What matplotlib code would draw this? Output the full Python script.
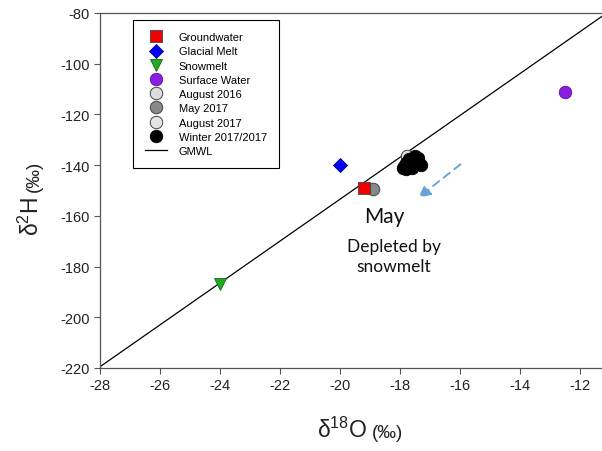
import matplotlib
matplotlib.use("Agg")
import matplotlib.pyplot as plt
import numpy as np

plt.rcParams['font.family'] = ['Liberation Sans', 'DejaVu Sans']
plt.rcParams['axes.unicode_minus'] = False
plt.rcParams['mathtext.default'] = 'regular'

# Data
gw_x, gw_y = [-19.2], [-149]
gm_x, gm_y = [-20.0], [-140]
sm_x, sm_y = [-24.0], [-187]
sw_x, sw_y = [-12.5], [-111]
aug16_x, aug16_y = [-17.75], [-136.5]
may17_x, may17_y = [-18.9], [-149.5]
aug17_x, aug17_y = [-17.85], [-140.5]
win_x = [-17.9, -17.8, -17.7, -17.6, -17.5, -17.4, -17.3, -17.8, -17.6, -17.4, -17.7, -17.5]
win_y = [-141, -139, -137.5, -140, -138, -139, -140, -141.5, -141, -137, -139.5, -136.5]
gmwl_x = [-28, -10]
gmwl_slope, gmwl_int = 8.25, 11.5
xticks = [-28, -26, -24, -22, -20, -18, -16, -14, -12]
yticks = [-220, -200, -180, -160, -140, -120, -100, -80]
arrow_start = (-15.9, -139)
arrow_end = (-17.45, -153.5)

fig = plt.figure(figsize=(6.02, 4.52), dpi=100)
ax = fig.add_axes([100/602, 1-369/452, 502/602, 355/452])

gx = np.array(gmwl_x)
ax.plot(gx, gmwl_slope*gx + gmwl_int, color='black', lw=0.9, label='GMWL', zorder=2)

ax.plot(gw_x, gw_y, 's', ms=8, mfc='#ee0000', mec='#444444', mew=0.6, label='Groundwater', zorder=4)
ax.plot(gm_x, gm_y, 'D', ms=7, mfc='#0000ee', mec='#0000aa', mew=0.6, label='Glacial Melt', zorder=4)
ax.plot(sm_x, sm_y, 'v', ms=8.5, mfc='#22aa22', mec='#116611', mew=0.6, label='Snowmelt', zorder=4)
ax.plot(sw_x, sw_y, 'o', ms=9, mfc='#8a1fe0', mec='#5a10a0', mew=0.6, label='Surface Water', zorder=4)
ax.plot(aug16_x, aug16_y, 'o', ms=9, mfc='#dddddd', mec='#444444', mew=0.7, label='August 2016', zorder=3)
ax.plot(may17_x, may17_y, 'o', ms=9, mfc='#888888', mec='#444444', mew=0.7, label='May 2017', zorder=3)
ax.plot(aug17_x, aug17_y, 'o', ms=9, mfc='#e4e4e4', mec='#444444', mew=0.7, label='August 2017', zorder=3)
ax.plot(win_x, win_y, 'o', ms=9, mfc='black', mec='black', mew=0.6, ls='none', label='Winter 2017/2017', zorder=5)

handles, labels = ax.get_legend_handles_labels()
order = labels[1:] + labels[:1]
hmap = dict(zip(labels, handles))
leg = ax.legend([hmap[l] for l in order], order, loc='upper left',
                bbox_to_anchor=(33/502, 1-7/355), fontsize=8, frameon=True,
                fancybox=False, edgecolor='black', framealpha=1,
                labelspacing=0.38, borderpad=1.1, handlelength=2.0,
                handletextpad=1.0, borderaxespad=0)
leg.get_frame().set_linewidth(0.8)

ax.annotate('', xy=arrow_end, xytext=arrow_start,
            arrowprops=dict(arrowstyle='-|>', color='#6aa2d8', lw=1.4,
                            linestyle=(0, (4, 3)), mutation_scale=18))

ax.text(-19.2, -160.2, 'May', fontsize=15, family=['Lato', 'DejaVu Sans'], ha='left', va='center', color='#111111')
ax.text(-18.2, -175.8, 'Depleted by\nsnowmelt', fontsize=12.5, family=['Lato', 'DejaVu Sans'],
        ha='center', va='center', color='#111111', linespacing=1.3, multialignment='center')

ax.set_xlim(-28, -11.25)
ax.set_ylim(-220, -80)
ax.set_xticks(xticks)
ax.set_yticks(yticks)
ax.tick_params(direction='out', length=4, width=0.8, colors='#555555', labelcolor='#222222', labelsize=10.5)
for s in ['left', 'bottom', 'top']:
    ax.spines[s].set_color('#555555')
    ax.spines[s].set_linewidth(0.9)
ax.spines['right'].set_visible(False)

# Axis labels built from two parts (large symbol, smaller unit)
W, H = 602, 452
fig.canvas.draw()
r = fig.canvas.get_renderer()
tx1 = fig.text(0, 0, 'δ$^{18}$O', fontsize=16.5, color='#222222', ha='left', va='baseline', rotation_mode='anchor')
tx2 = fig.text(0, 0, '(‰)', fontsize=13.5, color='#222222', ha='left', va='baseline', rotation_mode='anchor')
w1 = tx1.get_window_extent(r).width
w2 = tx2.get_window_extent(r).width
gap = 5
total = w1 + gap + w2
cx = 360
base_y = H - 438
tx1.set_position(((cx - total/2)/W, base_y/H))
tx2.set_position(((cx - total/2 + w1 + gap)/W, base_y/H))

ty1 = fig.text(0, 0, 'δ$^{2}$H', fontsize=16.5, color='#222222', ha='left', va='baseline', rotation=90, rotation_mode='anchor')
ty2 = fig.text(0, 0, '(‰)', fontsize=13.5, color='#222222', ha='left', va='baseline', rotation=90, rotation_mode='anchor')
h1 = ty1.get_window_extent(r).height
bx = 39
start_y = H - 236
ty1.set_position((bx/W, start_y/H))
ty2.set_position((bx/W, (start_y + h1 + gap)/H))

fig.savefig('out.png', dpi=100)
